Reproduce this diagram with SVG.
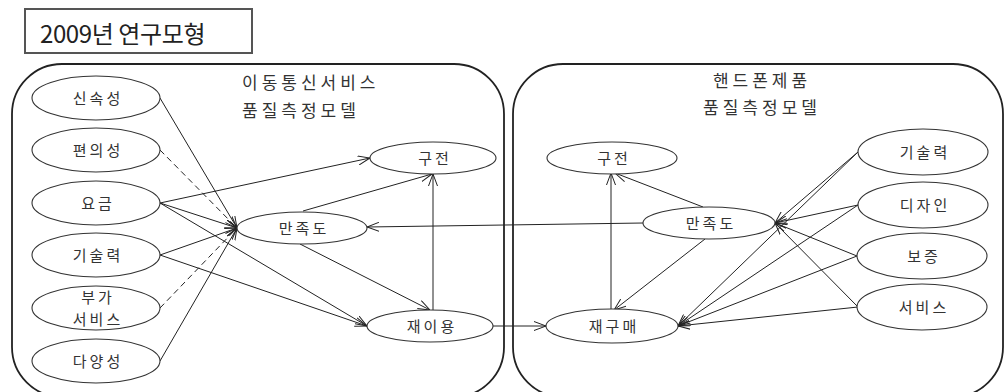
<svg xmlns="http://www.w3.org/2000/svg" width="1006" height="392" viewBox="0 0 1006 392">
<defs>
<marker id="arr" viewBox="0 0 12 10" refX="12" refY="5" markerWidth="12" markerHeight="10" markerUnits="userSpaceOnUse" orient="auto">
<path d="M0,0.5 L12,5 L0,9.5" fill="none" stroke="#222" stroke-width="1"/>
</marker>
</defs>
<style>
text{font-family:"Noto Sans CJK KR","Noto Sans",sans-serif;fill:#333;}
.lbl{font-size:15px;letter-spacing:3px;text-anchor:middle;}
.ttl{font-size:17px;letter-spacing:4px;}
.el{fill:#fff;stroke:#333;stroke-width:1.1;}
.panel{fill:none;stroke:#222;stroke-width:1.8;}
.c{stroke:#222;stroke-width:1;fill:none;marker-end:url(#arr);}
.d{stroke-dasharray:6,4;}
</style>
<rect width="1006" height="392" fill="#fff"/>
<g id="title">
<rect x="25" y="9" width="227" height="44" fill="#fff" stroke="#555" stroke-width="2"/>
<text x="40" y="43" style="font-size:24px;letter-spacing:-0.4px;fill:#222">2009년 연구모형</text>
</g>
<g id="panel-left">
<rect class="panel" x="12" y="64" width="492" height="333" rx="50" ry="50"/>
<text class="ttl" x="242" y="89">이동통신서비스</text>
<text class="ttl" x="242" y="117">품질측정모델</text>
</g>
<g id="panel-right">
<rect class="panel" x="513" y="64" width="490" height="333" rx="50" ry="50"/>
<text class="ttl" x="762" y="87" text-anchor="middle">핸드폰제품</text>
<text class="ttl" x="762" y="114" text-anchor="middle">품질측정모델</text>
</g>
<g id="connectors">
<line class="c" x1="160" y1="98" x2="237" y2="228"/>
<line class="c d" x1="160" y1="150" x2="237" y2="228"/>
<line class="c" x1="160" y1="203" x2="237" y2="228"/>
<line class="c" x1="160" y1="255" x2="237" y2="228"/>
<line class="c d" x1="160" y1="308" x2="237" y2="228"/>
<line class="c" x1="160" y1="361" x2="237" y2="228"/>
<line class="c" x1="160" y1="203" x2="370" y2="158"/>
<line class="c" x1="160" y1="203" x2="367" y2="326"/>
<line class="c" x1="160" y1="255" x2="367" y2="326"/>
<line class="c" x1="303" y1="211" x2="432" y2="174"/>
<line class="c" x1="300" y1="244" x2="430" y2="310"/>
<line class="c" x1="433" y1="310" x2="433" y2="174"/>
<line class="c" x1="643" y1="223" x2="367" y2="227"/>
<line class="c" x1="493" y1="326" x2="546" y2="326"/>
<line class="c" x1="611" y1="309" x2="611" y2="173"/>
<line class="c" x1="703" y1="207" x2="615" y2="173"/>
<line class="c" x1="705" y1="239" x2="614" y2="310"/>
<line class="c" x1="858" y1="152" x2="775" y2="223"/>
<line class="c" x1="858" y1="152" x2="678" y2="326"/>
<line class="c" x1="858" y1="205" x2="775" y2="223"/>
<line class="c" x1="858" y1="205" x2="678" y2="326"/>
<line class="c" x1="857" y1="256" x2="775" y2="223"/>
<line class="c" x1="857" y1="256" x2="678" y2="326"/>
<line class="c" x1="858" y1="307" x2="775" y2="223"/>
<line class="c" x1="858" y1="307" x2="678" y2="326"/>
</g>
<g id="n-sinsok"><ellipse class="el" cx="96" cy="98" rx="64" ry="22"/><text class="lbl" x="98" y="104">신속성</text></g>
<g id="n-pyeonui"><ellipse class="el" cx="96" cy="150" rx="64" ry="22"/><text class="lbl" x="98" y="156">편의성</text></g>
<g id="n-yogeum"><ellipse class="el" cx="96" cy="203" rx="64" ry="22"/><text class="lbl" x="98" y="209">요금</text></g>
<g id="n-gisul-l"><ellipse class="el" cx="96" cy="255" rx="64" ry="22"/><text class="lbl" x="98" y="261">기술력</text></g>
<g id="n-buga"><ellipse class="el" cx="96" cy="308" rx="64" ry="22"/><text class="lbl" x="98" y="303">부가</text><text class="lbl" x="98" y="325">서비스</text></g>
<g id="n-dayang"><ellipse class="el" cx="96" cy="361" rx="64" ry="22"/><text class="lbl" x="98" y="367">다양성</text></g>
<g id="n-manjok-l"><ellipse class="el" cx="302" cy="228" rx="65" ry="16"/><text class="lbl" x="304" y="234">만족도</text></g>
<g id="n-gujeon-l"><ellipse class="el" cx="433" cy="158" rx="63" ry="16"/><text class="lbl" x="435" y="164">구전</text></g>
<g id="n-jaeiyong"><ellipse class="el" cx="430" cy="326" rx="63" ry="16"/><text class="lbl" x="432" y="332">재이용</text></g>
<g id="n-gujeon-r"><ellipse class="el" cx="612" cy="158" rx="65" ry="16"/><text class="lbl" x="614" y="164">구전</text></g>
<g id="n-manjok-r"><ellipse class="el" cx="709" cy="223" rx="66" ry="16"/><text class="lbl" x="711" y="229">만족도</text></g>
<g id="n-jaegumae"><ellipse class="el" cx="612" cy="326" rx="66" ry="17"/><text class="lbl" x="614" y="332">재구매</text></g>
<g id="n-gisul-r"><ellipse class="el" cx="923" cy="152" rx="65" ry="23"/><text class="lbl" x="925" y="158">기술력</text></g>
<g id="n-design"><ellipse class="el" cx="923" cy="205" rx="65" ry="23"/><text class="lbl" x="925" y="211">디자인</text></g>
<g id="n-bojeung"><ellipse class="el" cx="922" cy="256" rx="65" ry="23"/><text class="lbl" x="924" y="262">보증</text></g>
<g id="n-service"><ellipse class="el" cx="922" cy="307" rx="65" ry="23"/><text class="lbl" x="924" y="313">서비스</text></g>
</svg>
